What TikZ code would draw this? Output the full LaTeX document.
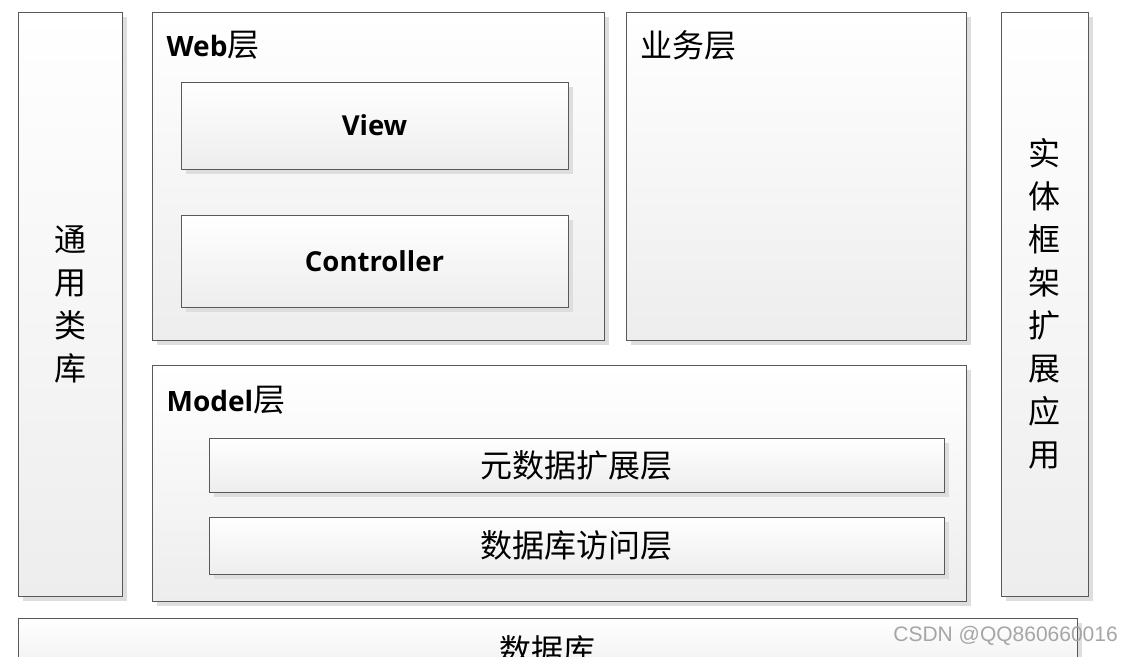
\documentclass[tikz,border=0pt]{standalone}
\usepackage{fontspec}
\usepackage{tikz}
\usetikzlibrary{shadows}
\newfontfamily\cjk{Noto Sans CJK SC}
\newfontfamily\latin{Open Sans}
\newfontfamily\wmfont{Liberation Sans}
\tikzset{
  layer/.style={rectangle, draw=black!65, line width=1pt, inner sep=0pt,
    top color=white, bottom color=black!7,
    drop shadow={shadow xshift=5pt, shadow yshift=-5pt, fill=black!13, opacity=1},
    font=\fontsize{32}{43}\selectfont\cjk, align=center},
  title/.style={anchor=west, inner sep=0pt, font=\fontsize{32}{36}\selectfont\cjk},
  bold/.style={font=\fontsize{27.5}{30}\selectfont\latin\bfseries}
}
\begin{document}
\begin{tikzpicture}[x=1pt, y=-1pt]
    \clip (0, 0) rectangle (1121, 656);
    \fill[white] (0, 0) rectangle (1121, 656);
    \node[layer, minimum width=104, minimum height=584] (lib) at (70, 304) {通\\用\\类\\库};
    \node[layer, minimum width=452, minimum height=328] (web) at (378, 176) {};
    \node[layer, minimum width=387, minimum height=87] (view) at (374.5, 125.5) {};
    \node[bold] at (view.center) {View};
    \node[layer, minimum width=387, minimum height=92] (ctrl) at (374.5, 261) {};
    \node[bold] at (ctrl.center) {Controller};
    \node[layer, minimum width=340, minimum height=328] (biz) at (796, 176) {};
    \node[layer, minimum width=87, minimum height=584] (ef) at (1044.5, 304) {实\\体\\框\\架\\扩\\展\\应\\用};
    \node[layer, minimum width=814, minimum height=236] (model) at (559, 483) {};
    \node[layer, minimum width=735, minimum height=54] (meta) at (576.5, 465) {元数据扩展层};
    \node[layer, minimum width=735, minimum height=57] (dao) at (576.5, 545.5) {数据库访问层};
    \node[layer, minimum width=1059, minimum height=64] (db) at (547.5, 650) {数据库};
    \node[title] (webtitle) at ([xshift=15pt, yshift=-34pt]web.north west) {{\fontsize{28}{30}\selectfont\latin\bfseries Web}层};
    \node[title] (biztitle) at ([xshift=15pt, yshift=-34pt]biz.north west) {业务层};
    \node[title] (modeltitle) at ([xshift=15pt, yshift=-36pt]model.north west) {{\fontsize{28}{30}\selectfont\latin\bfseries Model}层};
    \node[anchor=east, inner sep=0pt, text=black!35, font=\fontsize{21}{24}\selectfont\wmfont] (csdn) at (1118, 636) {CSDN @QQ860660016};
  \end{tikzpicture}
\end{document}
